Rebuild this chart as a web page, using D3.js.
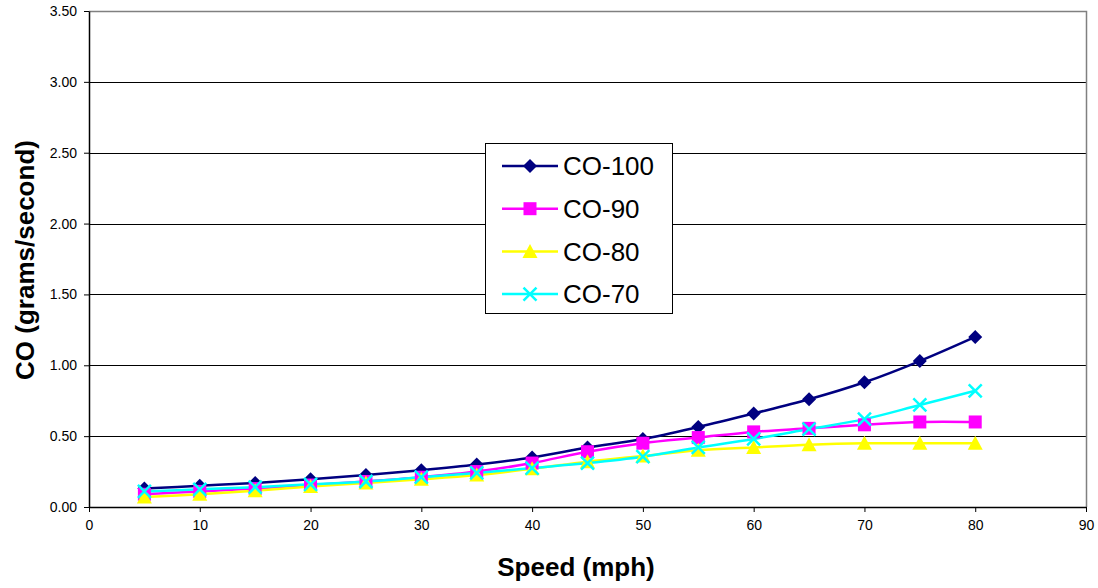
<!DOCTYPE html>
<html>
<head>
<meta charset="utf-8">
<script src="https://cdn.jsdelivr.net/npm/d3@7"></script>
<style>
  body { margin: 0; background: #fff; }
  text { font-family: Arial, "Liberation Sans", sans-serif; }
</style>
</head>
<body>
<svg id="chart"></svg>
<script>
(function () {

    // Data
    const speeds = [5, 10, 15, 20, 25, 30, 35, 40, 45, 50, 55, 60, 65, 70, 75, 80];
    const co100 = [0.13, 0.15, 0.17, 0.195, 0.225, 0.26, 0.30, 0.35, 0.42, 0.48, 0.565, 0.66, 0.76, 0.88, 1.03, 1.20];
    const co90 = [0.09, 0.11, 0.13, 0.155, 0.18, 0.21, 0.25, 0.31, 0.39, 0.45, 0.49, 0.53, 0.555, 0.58, 0.60, 0.60];
    const co80 = [0.07, 0.09, 0.115, 0.145, 0.17, 0.195, 0.225, 0.27, 0.32, 0.36, 0.40, 0.42, 0.44, 0.45, 0.45, 0.45];
    const co70 = [0.11, 0.125, 0.14, 0.16, 0.18, 0.21, 0.24, 0.275, 0.31, 0.355, 0.42, 0.48, 0.55, 0.62, 0.72, 0.82];
    const seriesNames = ["CO-100", "CO-90", "CO-80", "CO-70"];
    const seriesColors = ["#000080", "#FF00FF", "#FFFF00", "#00FFFF"];
    const seriesMarkers = ["diamond", "square", "triangle", "cross"];
    const xTicks = [0, 10, 20, 30, 40, 50, 60, 70, 80, 90];
    const yTicks = [0, 0.5, 1, 1.5, 2, 2.5, 3, 3.5];

    const seriesValues = [co100, co90, co80, co70];
    const series = seriesNames.map((name, i) => ({
        name: name,
        color: seriesColors[i],
        marker: seriesMarkers[i],
        points: speeds.map((s, j) => ({ x: s, y: seriesValues[i][j] }))
    }));

    // Size and plot box
    const width = 1098, height = 588;
    const left = 89, right = 1086, top = 11, bottom = 507;

    const svg = d3.select("#chart")
        .attr("width", width)
        .attr("height", height);

    const x = d3.scaleLinear().domain([0, 90]).range([left, right]);
    const y = d3.scaleLinear().domain([0, 3.5]).range([bottom, top]);

    // Gridlines
    svg.append("g")
        .selectAll("line")
        .data(yTicks.filter(t => t > 0 && t < 3.5))
        .enter().append("line")
        .attr("x1", left).attr("x2", right)
        .attr("y1", d => Math.round(y(d)) + 0.5)
        .attr("y2", d => Math.round(y(d)) + 0.5)
        .attr("stroke", "#000")
        .attr("stroke-width", 1);

    // Top and right frame (grey)
    svg.append("path")
        .attr("d", `M${left},${top + 0.5}H${right + 0.5}V${bottom}`)
        .attr("fill", "none")
        .attr("stroke", "#808080")
        .attr("stroke-width", 1.5);

    // Axes
    const xAxis = d3.axisBottom(x).tickValues(xTicks).tickSize(5).tickSizeOuter(0).tickPadding(8);
    const yAxis = d3.axisLeft(y).tickValues(yTicks).tickSize(5).tickSizeOuter(0)
        .tickPadding(7).tickFormat(d3.format(".2f"));

    const gx = svg.append("g")
        .attr("transform", `translate(0,${bottom})`)
        .call(xAxis);
    const gy = svg.append("g")
        .attr("transform", `translate(${left},0)`)
        .call(yAxis);

    [gx, gy].forEach(g => {
        g.select(".domain").attr("stroke", "#000").attr("stroke-width", 1.5);
        g.selectAll(".tick line").attr("stroke", "#000");
        g.selectAll(".tick text")
            .attr("fill", "#000")
            .style("font-size", "14px");
    });

    // Lines
    const line = d3.line()
        .x(d => x(d.x))
        .y(d => y(d.y))
        .curve(d3.curveCatmullRom.alpha(0.5));

    svg.append("g")
        .selectAll("path")
        .data(series)
        .enter().append("path")
        .attr("d", d => line(d.points))
        .attr("fill", "none")
        .attr("stroke", d => d.color)
        .attr("stroke-width", 2.5);

    // Marker drawing
    const drawMarker = (g, type, color, cx, cy) => {
        if (type === "diamond") {
            g.append("path")
                .attr("d", `M${cx},${cy - 7}L${cx + 7},${cy}L${cx},${cy + 7}L${cx - 7},${cy}Z`)
                .attr("fill", color);
        } else if (type === "square") {
            g.append("rect")
                .attr("x", cx - 6.5).attr("y", cy - 6.5)
                .attr("width", 13).attr("height", 13)
                .attr("fill", color);
        } else if (type === "triangle") {
            g.append("path")
                .attr("d", `M${cx},${cy - 7.5}L${cx + 7.5},${cy + 6.5}L${cx - 7.5},${cy + 6.5}Z`)
                .attr("fill", color);
        } else {
            g.append("path")
                .attr("d", `M${cx - 6.5},${cy - 6.5}L${cx + 6.5},${cy + 6.5}M${cx + 6.5},${cy - 6.5}L${cx - 6.5},${cy + 6.5}`)
                .attr("stroke", color)
                .attr("stroke-width", 2.5)
                .attr("fill", "none");
        }
    };

    const markersG = svg.append("g");
    series.forEach(s => {
        const g = markersG.append("g");
        s.points.forEach(p => drawMarker(g, s.marker, s.color, x(p.x), y(p.y)));
    });

    // Legend
    const legend = svg.append("g").attr("transform", "translate(485,143)");
    legend.append("rect")
        .attr("x", 0.5).attr("y", 0.5)
        .attr("width", 187).attr("height", 170)
        .attr("fill", "#fff")
        .attr("stroke", "#000")
        .attr("stroke-width", 1);

    series.forEach((s, i) => {
        const cy = 23 + i * 42.7;
        const row = legend.append("g");
        row.append("line")
            .attr("x1", 17).attr("x2", 73)
            .attr("y1", cy).attr("y2", cy)
            .attr("stroke", s.color)
            .attr("stroke-width", 2.5);
        drawMarker(row, s.marker, s.color, 45, cy);
        row.append("text")
            .attr("x", 78).attr("y", cy)
            .attr("dy", "0.36em")
            .style("font-size", "26px")
            .attr("fill", "#000")
            .text(s.name);
    });

    // Axis titles
    svg.append("text")
        .attr("x", 576)
        .attr("y", 576)
        .attr("text-anchor", "middle")
        .style("font-size", "26px")
        .style("font-weight", "bold")
        .text("Speed (mph)");

    svg.append("text")
        .attr("transform", `translate(34,260) rotate(-90)`)
        .attr("text-anchor", "middle")
        .style("font-size", "26px")
        .style("font-weight", "bold")
        .text("CO (grams/second)");
})();
</script>
</body>
</html>
